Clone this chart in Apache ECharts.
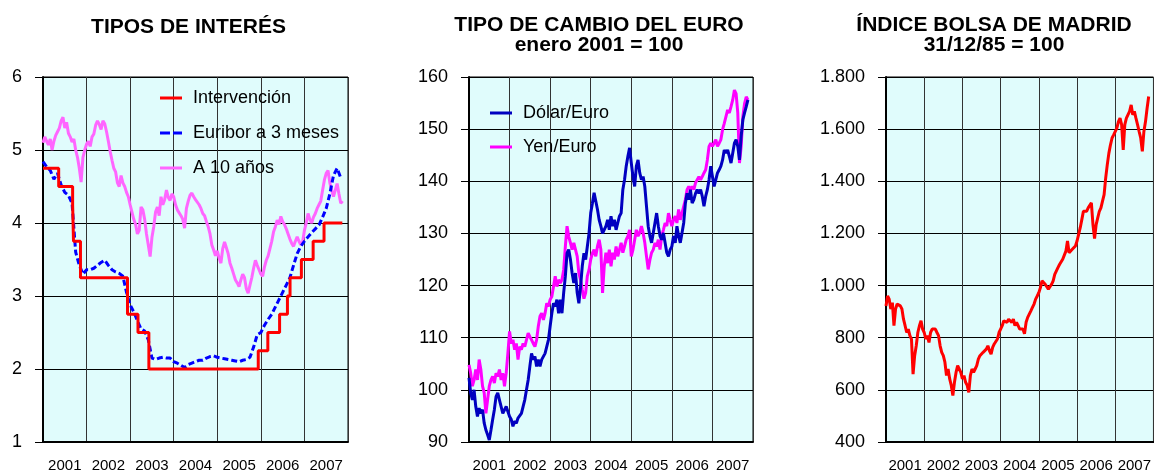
<!DOCTYPE html>
<html>
<head>
<meta charset="utf-8">
<title>Tipos, cambio y bolsa</title>
<script src="https://cdn.jsdelivr.net/npm/echarts@6/dist/echarts.min.js"></script>
<style>
    html, body { margin: 0; padding: 0; background: #fff; }
    #chart { width: 1154px; height: 474px; }
</style>
</head>
<body>
<div id="chart"></div>
<script>
// etiquetas del eje horizontal (un año por columna)
const anios = ['2001', '2002', '2003', '2004', '2005', '2006', '2007'];

// tipo de intervención: fecha (año decimal) en la que entra cada tipo
const intervFechas = [2001, 2001.36, 2001.68, 2001.70, 2001.86, 2002.94, 2003.18, 2003.43,
    2005.94, 2006.16, 2006.43, 2006.61, 2006.67, 2006.93, 2007.20, 2007.45, 2007.87];
const intervTipos = [4.75, 4.5, 4.25, 3.75, 3.25, 2.75, 2.5, 2.0,
    2.25, 2.5, 2.75, 3.0, 3.25, 3.5, 3.75, 4.0, 4.0];

// Euribor a 3 meses, mensual desde enero 2001
const euribor3m = [
    4.84, 4.77, 4.72, 4.60, 4.68, 4.52, 4.42, 4.38, 4.27, 3.60, 3.42, 3.30,
    3.36, 3.36, 3.38, 3.42, 3.46, 3.49, 3.42, 3.36, 3.33, 3.31, 3.27, 3.05,
    2.88, 2.78, 2.66, 2.55, 2.52, 2.40, 2.15, 2.13, 2.15, 2.16, 2.15, 2.15,
    2.10, 2.08, 2.05, 2.02, 2.06, 2.08, 2.10, 2.12, 2.12, 2.15, 2.17, 2.18,
    2.16, 2.15, 2.14, 2.13, 2.12, 2.11, 2.10, 2.12, 2.13, 2.16, 2.30, 2.47,
    2.50, 2.60, 2.68, 2.75, 2.85, 2.95, 3.05, 3.15, 3.25, 3.42, 3.58, 3.68,
    3.75, 3.81, 3.87, 3.92, 3.97, 4.08, 4.20, 4.40, 4.65, 4.75, 4.62
];

// bono a 10 años, quincenal desde enero 2001
const bono10 = [
    5.10, 5.18, 5.12, 5.07, 5.15, 5.00, 5.12, 5.20, 5.25, 5.30, 5.40, 5.45,
    5.30, 5.38, 5.23, 5.18, 5.11, 5.15, 5.00, 4.90, 4.75, 4.56, 4.90, 5.00,
    5.08, 5.12, 5.05, 5.18, 5.22, 5.34, 5.40, 5.35, 5.28, 5.40, 5.36, 5.25,
    5.12, 4.98, 4.86, 4.75, 4.70, 4.55, 4.50, 4.65, 4.55, 4.50, 4.42, 4.36,
    4.25, 4.15, 4.05, 3.98, 3.85, 3.90, 4.22, 4.18, 4.05, 3.85, 3.70, 3.54,
    3.80, 3.95, 4.15, 4.22, 4.10, 4.36, 4.25, 4.32, 4.45, 4.35, 4.31, 4.40,
    4.36, 4.25, 4.18, 4.20, 4.10, 4.05, 3.93, 4.20, 4.30, 4.38, 4.41, 4.36,
    4.32, 4.30, 4.25, 4.20, 4.13, 4.10, 4.02, 3.95, 3.85, 3.70, 3.63, 3.55,
    3.62, 3.52, 3.45, 3.65, 3.74, 3.66, 3.58, 3.45, 3.38, 3.30, 3.22, 3.18,
    3.13, 3.22, 3.30, 3.25, 3.10, 3.04, 3.15, 3.25, 3.38, 3.49, 3.42, 3.36,
    3.30, 3.27, 3.40, 3.49, 3.55, 3.65, 3.75, 3.88, 3.95, 4.04, 3.98, 4.09,
    4.02, 3.98, 3.92, 3.85, 3.78, 3.72, 3.68, 3.75, 3.81, 3.75, 3.70, 3.74,
    3.90, 4.00, 4.13, 4.05, 4.00, 4.08, 4.13, 4.20, 4.25, 4.30, 4.45, 4.59,
    4.68, 4.72, 4.55, 4.45, 4.36, 4.45, 4.54, 4.40, 4.27, 4.30
];

// tipo de cambio, enero 2001 = 100, quincenal
const dolarEuro = [
    102.3, 99.4, 98.1, 100.0, 96.8, 94.9, 96.5, 95.5, 96.2, 93.6, 92.3, 91.4,
    90.4, 92.3, 94.3, 96.2, 98.7, 99.4, 98.1, 96.8, 95.5, 95.5, 96.8, 96.8,
    94.9, 94.3, 93.0, 94.0, 93.6, 94.6, 94.9, 95.5, 96.8, 98.1, 100.0, 101.9,
    104.5, 107.0, 105.8, 106.4, 104.5, 105.8, 104.5, 105.8, 105.8, 107.0, 108.3, 109.6,
    112.2, 114.7, 116.6, 116.0, 117.3, 114.7, 117.3, 114.7, 118.6, 121.8, 126.2, 126.9,
    125.0, 122.4, 120.5, 122.4, 118.6, 116.6, 119.8, 123.7, 126.2, 125.0, 127.5, 130.0,
    133.9, 135.8, 137.8, 137.8, 134.6, 132.6, 131.4, 130.0,
    130.1, 131.4, 132.6, 130.7, 133.3, 131.4, 132.6, 130.7, 132.0, 133.3,
    133.9, 138.4, 140.3, 142.9, 144.8, 146.4, 143.5, 140.9, 139.0, 142.9,
    144.1, 141.6, 140.3, 140.9, 139.0, 135.2, 131.4, 129.5, 128.2, 130.1,
    132.0, 133.9, 131.4, 129.5, 128.8, 130.1, 128.2, 126.3, 125.6, 126.9,
    127.5, 129.5, 128.2, 131.4, 129.5, 128.2, 130.1, 132.0, 135.8, 137.7,
    136.5, 138.4, 135.8, 136.5, 137.7, 138.4, 137.7, 138.4, 137.1, 135.2,
    137.1, 138.4, 140.3, 142.9, 140.9, 139.0, 140.3, 141.6, 142.2, 142.9,
    144.1, 146.0, 145.4, 146.0, 144.8, 143.5, 145.4, 147.3, 148.0, 146.7,
    144.1, 148.6, 151.8, 153.1, 154.3, 155.6
];
const yenEuro = [
    104.8, 103.2, 100.7, 101.9, 103.9, 101.9, 105.8, 103.9, 100.7, 99.4, 95.5, 98.1,
    100.7, 101.9, 102.6, 101.3, 103.2, 102.6, 103.9, 101.9, 103.2, 100.7, 103.2, 107.0,
    111.2, 108.9, 109.6, 107.7, 108.9, 105.8, 108.3, 107.7, 108.9, 108.3, 108.3, 110.9,
    110.2, 109.6, 108.9, 108.3, 109.6, 112.2, 114.1, 114.7, 113.4, 114.7, 116.6, 116.0,
    117.3, 117.9, 119.8, 121.8, 119.8, 121.1, 120.5, 121.1, 123.0, 127.5, 131.4, 129.4,
    128.2, 126.9, 128.2, 126.9, 125.6, 122.4, 121.1, 119.2, 117.5, 118.6, 121.8, 123.0,
    125.0, 126.2, 126.9, 125.6, 127.5, 128.8, 126.9, 118.6,
    123.7, 126.3, 124.3, 126.9, 123.7, 126.3, 125.0, 127.5, 125.6, 126.9,
    128.2, 126.3, 127.5, 128.8, 129.5, 130.7, 125.6, 126.9, 128.8, 130.7,
    129.5, 130.1, 131.4, 130.1, 128.2, 125.6, 123.1, 124.9, 126.3, 126.9,
    128.2, 127.5, 128.8, 126.9, 129.5, 130.7, 132.0, 131.4, 133.9, 132.6,
    131.4, 132.6, 133.3, 132.0, 134.6, 132.6, 133.9, 135.2, 136.5, 138.4,
    139.0, 138.4, 139.0, 138.4, 139.7, 140.3, 140.9, 140.3, 140.9, 141.6,
    142.2, 144.1, 146.7, 147.3, 146.7, 147.3, 148.0, 146.7, 147.3, 148.0,
    149.9, 151.1, 152.4, 153.7, 153.1, 154.3, 155.6, 157.5, 156.8, 153.1,
    143.5, 146.7, 152.4, 154.9, 156.2, 155.6
];

// Índice General de la Bolsa de Madrid, quincenal
const bolsaMadrid = [
    922, 960, 948, 910, 935, 846, 910, 929, 935, 922,
    910, 871, 846, 820, 833, 808, 795, 660, 731, 769,
    820, 846, 865, 833, 820, 795, 808, 782, 820, 833,
    839, 833, 820, 808, 769, 744, 731, 706, 655, 680,
    642, 617, 578, 629, 667, 693, 680, 667, 642, 655,
    629, 617, 590, 655, 680, 667, 680, 693, 718, 731,
    737, 744, 750, 756, 769, 750, 737, 763, 776, 769,
    795, 820, 833, 846, 865, 871, 859, 871, 878, 859,
    871, 846, 859, 846, 833,
    839, 833, 815, 859, 878, 884, 903, 916, 929, 948,
    960, 973, 992, 1018, 1011, 1005, 999, 986, 980, 1005,
    1018, 1043, 1050, 1069, 1081, 1088, 1101, 1094, 1132, 1171,
    1126, 1132, 1139, 1145, 1152, 1171, 1196, 1222, 1253, 1285,
    1292, 1285, 1298, 1292, 1317, 1234, 1180, 1234, 1260, 1285,
    1298, 1324, 1349, 1413, 1464, 1508, 1540, 1566, 1578, 1585,
    1604, 1629, 1642, 1617, 1520, 1617, 1642, 1648, 1668, 1693,
    1655, 1668, 1642, 1617, 1591, 1566, 1515, 1591, 1629, 1680, 1725
];

const FUENTE = 'Liberation Sans, Arial, Helvetica, sans-serif';
const FONDO = '#e0fcfc';
// iconos de leyenda: trazo continuo y trazo discontinuo
const ICONO_LINEA = 'path://M0,0h22v3h-22z';
const ICONO_DISCONTINUO = 'path://M0,0h10v3h-10zM13,0h9v3h-9z';

// pares [año decimal, valor] para una serie muestreada a paso fijo
function aPares(valores, paso) {
    return valores.map(function (v, i) { return [2001 + i * paso, v]; });
}

const chart = echarts.init(document.getElementById('chart'), null, { renderer: 'canvas' });

const grids = [
    { left: 43, top: 77, width: 305, height: 365 },
    { left: 469, top: 77, width: 284, height: 365 },
    { left: 886, top: 77, width: 268, height: 365 }
];

let xAxes = [];
grids.forEach(function (g, k) {
    // eje de valores: rejilla vertical en los cambios de año
    xAxes.push({
        type: 'value', gridIndex: k, position: 'bottom',
        min: 2001, max: 2008, interval: 1,
        axisLine: { show: true, lineStyle: { color: '#000', width: 2 } },
        axisTick: { show: false },
        axisLabel: { show: false },
        splitLine: { show: true, lineStyle: { color: '#333', width: 1 } }
    });
    // eje de categorías: solo las etiquetas de año centradas
    xAxes.push({
        type: 'category', gridIndex: k, position: 'bottom',
        data: anios, boundaryGap: true,
        axisLine: { show: false },
        axisTick: { show: false },
        splitLine: { show: false },
        axisLabel: { interval: 0, fontSize: 15, color: '#000', fontFamily: FUENTE, margin: 16, hideOverlap: false }
    });
});

function ejeY(k, min, max, interval, formatter) {
    return {
        type: 'value', gridIndex: k, min: min, max: max, interval: interval,
        axisLine: { show: true, lineStyle: { color: '#000', width: 2 } },
        axisTick: { show: true, length: 8, lineStyle: { color: '#000', width: 1 } },
        axisLabel: { fontSize: 18, color: '#000', fontFamily: FUENTE, margin: 21, formatter: formatter },
        splitLine: { show: true, lineStyle: { color: '#000', width: 1 } }
    };
}

// separador de miles a la española: 1800 -> 1.800
function miles(v) {
    return String(v).replace(/\B(?=(\d{3})+(?!\d))/g, '.');
}

function linea(nombre, datos, color, xi, yi, extra) {
    return Object.assign({
        name: nombre, type: 'line', data: datos,
        xAxisIndex: xi, yAxisIndex: yi,
        symbol: 'none', showSymbol: false,
        lineStyle: { color: color, width: 3 },
        itemStyle: { color: color },
        emphasis: { disabled: true }
    }, extra || {});
}

const estiloLeyenda = {
    orient: 'vertical', padding: 0,
    itemWidth: 22, itemHeight: 3,
    selectedMode: false,
    textStyle: { fontSize: 18, lineHeight: 20, color: '#000', fontFamily: FUENTE, padding: [0, 0, 0, 6] }
};

const option = {
    animation: false,
    backgroundColor: '#fff',
    textStyle: { fontFamily: FUENTE },
    title: [
        {
            text: 'TIPOS DE INTERÉS', left: 188.5, top: 17, textAlign: 'center', padding: 0,
            textStyle: { fontSize: 21, fontWeight: 'bold', lineHeight: 21, color: '#000', fontFamily: FUENTE }
        },
        {
            text: 'TIPO DE CAMBIO DEL EURO\nenero 2001 = 100', left: 599, top: 15, textAlign: 'center', padding: 0,
            textStyle: { fontSize: 21, fontWeight: 'bold', lineHeight: 20, color: '#000', fontFamily: FUENTE }
        },
        {
            text: 'ÍNDICE BOLSA DE MADRID\n31/12/85 = 100', left: 994, top: 15, textAlign: 'center', padding: 0,
            textStyle: { fontSize: 21, fontWeight: 'bold', lineHeight: 20, color: '#000', fontFamily: FUENTE }
        }
    ],
    legend: [
        Object.assign({
            data: [
                { name: 'Intervención', icon: ICONO_LINEA },
                { name: 'Euribor a 3 meses', icon: ICONO_DISCONTINUO },
                { name: 'A 10 años', icon: ICONO_LINEA }
            ],
            left: 160, top: 88, itemGap: 15
        }, estiloLeyenda),
        Object.assign({
            data: [
                { name: 'Dólar/Euro', icon: ICONO_LINEA },
                { name: 'Yen/Euro', icon: ICONO_LINEA }
            ],
            left: 490, top: 103, itemGap: 14
        }, estiloLeyenda)
    ],
    grid: grids.map(function (g) {
        return Object.assign({ show: true, backgroundColor: FONDO, borderColor: '#000', borderWidth: 1 }, g);
    }),
    xAxis: xAxes,
    yAxis: [
        ejeY(0, 1, 6, 1),
        ejeY(1, 90, 160, 10),
        ejeY(2, 400, 1800, 200, miles)
    ],
    series: [
        linea('Intervención', intervFechas.map(function (f, i) { return [f, intervTipos[i]]; }), '#ff0000', 0, 0,
            { step: 'end', z: 4 }),
        linea('Euribor a 3 meses', aPares(euribor3m, 1 / 12), '#0000ff', 0, 0,
            { z: 3, lineStyle: { color: '#0000ff', width: 3, type: [6, 3] } }),
        linea('A 10 años', aPares(bono10, 1 / 24), '#ff66ff', 0, 0, { z: 2 }),
        linea('Dólar/Euro', aPares(dolarEuro, 1 / 24), '#0000c0', 2, 1, { z: 3 }),
        linea('Yen/Euro', aPares(yenEuro, 1 / 24), '#ff00ff', 2, 1, { z: 2 }),
        linea('Bolsa de Madrid', aPares(bolsaMadrid, 1 / 24), '#ff0000', 4, 2, { z: 2 })
    ]
};

chart.setOption(option);
</script>
</body>
</html>
